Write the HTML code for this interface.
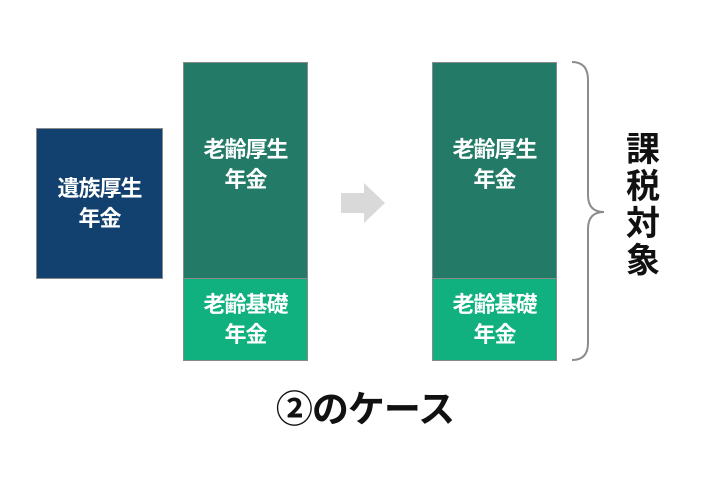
<!DOCTYPE html>
<html><head><meta charset="utf-8"><style>
body{margin:0;width:705px;height:491px;background:#fff;position:relative;overflow:hidden;font-family:"Liberation Sans","Noto Sans CJK JP",sans-serif;}
.b{position:absolute;box-sizing:border-box;border:1px solid #8a8a8a;color:#fff;font-weight:bold;font-size:22px;line-height:30px;text-align:center;display:flex;align-items:center;justify-content:center;letter-spacing:-1px;}
.t{position:absolute;font-weight:bold;color:#111;}
</style></head><body>
<div class="b" style="left:36px;top:128px;width:127px;height:151px;background:#124170;">遺族厚生<br>年金</div>
<div class="b" style="left:183px;top:62px;width:125px;height:217px;background:#227a67;padding-bottom:12px;">老齢厚生<br>年金</div>
<div class="b" style="left:183px;top:278px;width:125px;height:83px;background:#10b07f;">老齢基礎<br>年金</div>
<div class="b" style="left:432px;top:62px;width:125px;height:217px;background:#227a67;padding-bottom:12px;">老齢厚生<br>年金</div>
<div class="b" style="left:432px;top:278px;width:125px;height:83px;background:#10b07f;">老齢基礎<br>年金</div>
<svg style="position:absolute;left:0;top:0" width="705" height="491">
<polygon points="341,193 364,193 364,183 385,203 364,223 364,213 341,213" fill="#d9d9d9"/>
<path d="M572,62 Q588,62 588,80 L588,195 Q588,212 604,212 Q588,212 588,229 L588,343 Q588,360 572,360" fill="none" stroke="#8c8c8c" stroke-width="2"/>
</svg>
<div class="t" style="left:624px;top:132px;width:38px;font-size:34px;line-height:37px;text-align:center;">課<br>税<br>対<br>象</div>
<div class="t" style="left:250px;top:389px;width:230px;font-size:37px;line-height:42px;text-align:center;letter-spacing:-1px;">②のケース</div>
</body></html>
